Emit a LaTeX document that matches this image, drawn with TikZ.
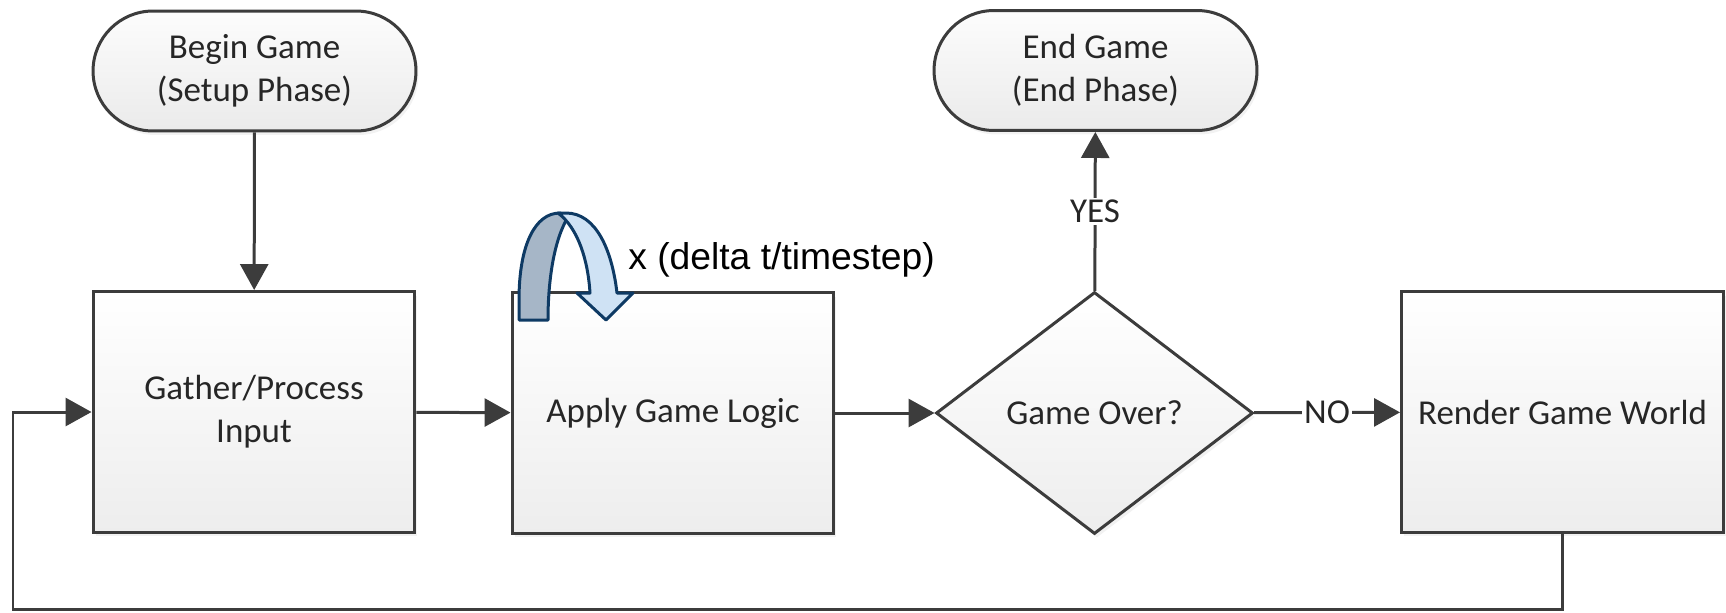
\documentclass[tikz,border=0pt]{standalone}
\usepackage{fontspec}
\setmainfont{Carlito}
\newfontfamily\notefont{Liberation Sans}
\usetikzlibrary{shapes.geometric,arrows.meta,shadows,positioning}

\definecolor{linegray}{HTML}{3C3C3C}
\definecolor{textgray}{HTML}{262626}
\definecolor{navy}{HTML}{0E3A64}
\definecolor{backblue}{HTML}{A6B6C7}
\definecolor{frontblue}{HTML}{CFE2F4}

\tikzset{
  boxbase/.style={draw=linegray, line width=0.06cm, inner sep=0pt, align=center,
    text=textgray, font=\fontsize{19.9}{24.4}\selectfont,
    drop shadow={shadow xshift=0.05cm, shadow yshift=-0.08cm, opacity=0.1}},
  process/.style={boxbase, rectangle, top color=white, bottom color=black!7,
    minimum width=6.44cm, minimum height=4.82cm},
  terminal/.style={boxbase, rectangle, rounded corners=1.2cm, top color=black!1,
    bottom color=black!8, minimum width=6.46cm, minimum height=2.4cm},
  decision/.style={boxbase, diamond, aspect=1.31, top color=white, bottom color=black!7,
    minimum width=6.34cm, minimum height=4.84cm},
  flow/.style={draw=linegray, line width=0.06cm, -{Triangle[length=0.52cm,width=0.56cm]}},
  lbl/.style={fill=white, inner sep=1pt, text=textgray, font=\fontsize{19.9}{24.4}\selectfont}
}

\begin{document}
\begin{tikzpicture}[x=0.02cm, y=-0.02cm]

    \useasboundingbox (0,0) rectangle (1726,612);

    \node[terminal] (begin) at (254.5,71) {Begin Game\\(Setup Phase)};
    \node[terminal] (end) at (1095.5,70.5) {End Game\\(End Phase)};

    \node[process] (gather) at (254,412) {Gather/Process\\Input};
    \node[process] (apply) at (673,413) {Apply Game Logic};
    \node[decision] (over) at (1094.5,413) {Game Over?};
    \node[process] (render) at (1562.5,412) {Render Game World};

    \coordinate (loop) at (13,609);

    \draw[flow] (begin) -- (gather);
    \draw[flow] (gather) -- (apply);
    \draw[flow] (apply) -- (over);
    \draw[flow] (over) -- node[lbl] (yes) {YES} (end);
    \draw[flow] (over) -- node[lbl] (no) {NO} (render);
    \draw[flow] (render.south) |- (loop) |- (gather.west);

    \filldraw[fill=backblue, draw=navy, line width=0.06cm, line join=round]
        (519,320) -- (519,300) .. controls (519,245) and (535,213) .. (560,213)
        -- (568,217) .. controls (554,240) and (548,280) .. (548,320) -- cycle;
    \filldraw[fill=frontblue, draw=navy, line width=0.06cm, line join=round]
        (558,213) -- (566,213) .. controls (596,213) and (612,250) .. (617,293)
        -- (633,293) -- (606,320) -- (577,293) -- (590,293)
        .. controls (588,260) and (578,228) .. (558,213) -- cycle;

    \node[anchor=base west, inner sep=0pt, font=\notefont\fontsize{21.2}{25}\selectfont] (step) at (628,269) {x (delta t/timestep)};

\end{tikzpicture}
\end{document}
